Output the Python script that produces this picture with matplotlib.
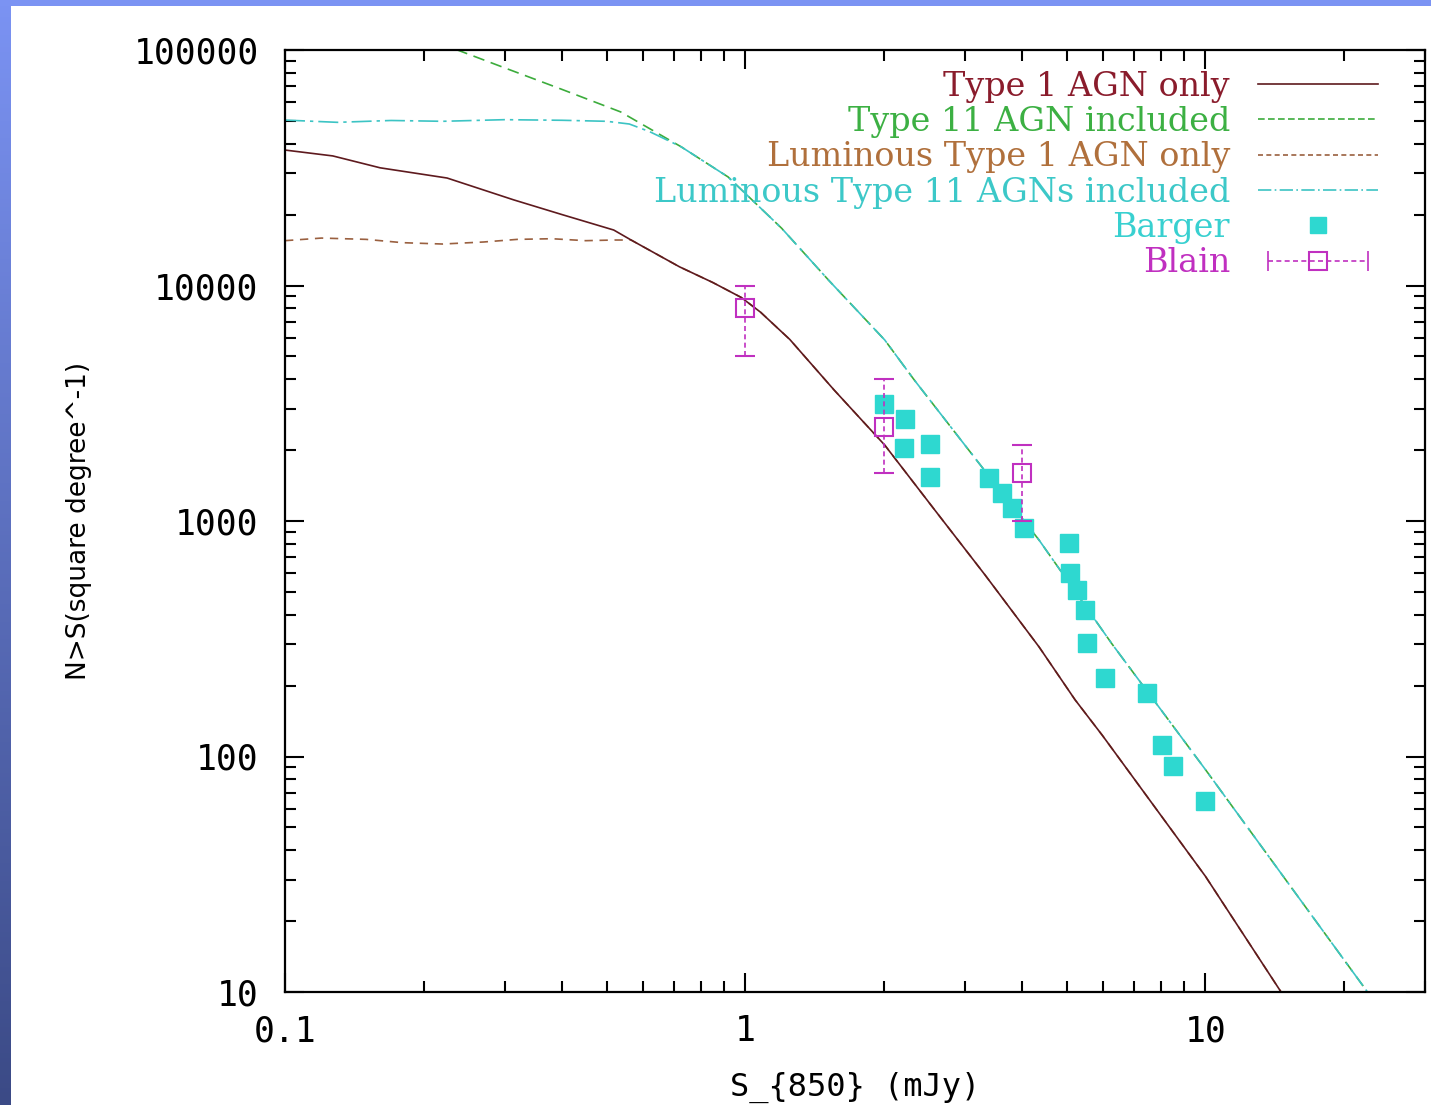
import matplotlib
matplotlib.use('Agg')
import matplotlib.pyplot as plt
import numpy as np
from matplotlib.lines import Line2D
from matplotlib.legend_handler import HandlerLine2D, HandlerTuple
from matplotlib.ticker import FixedLocator, FixedFormatter, LogLocator, NullFormatter

# --- model curves: N(>S) per square degree vs S_850 (mJy) ---
s_type1 = [0.1, 0.127, 0.161, 0.225, 0.314, 0.4, 0.518, 0.565, 0.72, 0.85, 0.98, 1.08, 1.25,
           1.56, 2.01, 2.58, 3.32, 4.35, 5.21, 5.97, 10.0, 14.6]
n_type1 = [37600, 35500, 31600, 28600, 23100, 20000, 17200, 15600, 12000, 10300, 8900, 7700, 5900,
           3600, 2100, 1115, 590, 292, 174, 123, 31, 10]

s_type2 = [0.2, 0.237, 0.3, 0.4, 0.536, 0.726, 0.918, 1.2, 1.52, 2.01, 2.33,
           3.22, 4.35, 6.27, 10.0, 22.5]
n_type2 = [118000, 100000, 84000, 68000, 54600, 38800, 28900, 17500, 10500, 5870, 3970,
           1760, 830, 300, 88, 10]

s_lum1 = [0.1, 0.12, 0.15, 0.18, 0.22, 0.27, 0.32, 0.38, 0.45, 0.52, 0.565, 0.72, 0.85, 0.98,
          1.08, 1.25, 1.56, 2.01, 2.58, 3.32, 4.35, 5.21, 5.97, 10.0, 14.6]
n_lum1 = [15500, 15900, 15700, 15200, 15000, 15300, 15700, 15800, 15500, 15600, 15600, 12000, 10300, 8900,
          7700, 5900, 3600, 2100, 1115, 590, 292, 174, 123, 31, 10]

s_lum2 = [0.1, 0.13, 0.17, 0.22, 0.3, 0.4, 0.5, 0.56, 0.62, 0.726, 0.918, 1.2, 1.52,
          2.01, 2.33, 3.22, 4.35, 6.27, 10.0, 22.5]
n_lum2 = [50400, 49300, 50200, 49800, 50600, 50300, 49800, 48500, 45000, 38800, 28900, 17500, 10500,
          5870, 3970, 1760, 830, 300, 88, 10]

# --- observed counts ---
s_barger = [2.0, 2.22, 2.21, 2.52, 2.52, 3.38, 3.61, 3.80, 4.03, 5.05, 5.07, 5.26, 5.48, 5.53,
            6.05, 7.48, 8.06, 8.52, 10.0]
n_barger = [3140, 2710, 2040, 2120, 1540, 1520, 1315, 1135, 933, 807, 601, 509, 419, 303,
            216, 186, 112, 91, 65]

s_blain = [1.0, 2.0, 4.0]
n_blain = [8000, 2500, 1600]
n_blain_lo = [5000, 1600, 1000]
n_blain_hi = [10000, 4000, 2100]

labels = ['Type 1 AGN only', 'Type 11 AGN included', 'Luminous Type 1 AGN only',
          'Luminous Type 11 AGNs included', 'Barger', 'Blain']
label_colors = ['#8a1c2c', '#3cb043', '#b0703c', '#3cc8c8', '#38d0d0', '#c030c0']

c_type1 = '#5e1a1e'
c_type2 = '#3cac3c'
c_lum1 = '#9a6040'
c_lum2 = '#3cc4c4'
c_barger = '#2ed8d0'
c_blain = '#c030c0'

W, H = 1431, 1105
fig = plt.figure(figsize=(W / 100, H / 100), dpi=100, facecolor='white')

# blue slide border (left gradient strip + thin top strip)
band = fig.add_axes([0, 0, 11 / W, 1])
grad = np.linspace(0, 1, 256).reshape(-1, 1)
band.imshow(grad, aspect='auto', extent=[0, 1, 0, 1], origin='upper',
            cmap=matplotlib.colors.LinearSegmentedColormap.from_list('b', ['#7b93f3', '#3b4a86']))
band.axis('off')
top = fig.add_axes([0, 1 - 6 / H, 1, 6 / H])
top.set_facecolor('#7b93f3')
top.set_xticks([])
top.set_yticks([])
for sp in top.spines.values():
    sp.set_visible(False)

ax = fig.add_axes([285 / W, 1 - 992 / H, 1140 / W, 942 / H])
ax.set_xscale('log')
ax.set_yscale('log')

lw = 1.2
ax.plot(s_type2, n_type2, color=c_type2, lw=lw, dashes=(7, 4))
ax.plot(s_lum1, n_lum1, color=c_lum1, lw=lw, dashes=(5, 4))
ax.plot(s_lum2, n_lum2, color=c_lum2, lw=lw, dashes=(12, 3, 2, 3))
ax.plot(s_type1, n_type1, color=c_type1, lw=lw)

ax.plot(s_barger, n_barger, ls='none', marker='s', ms=13, color=c_barger, mec=c_barger)

yerr = [np.array(n_blain) - np.array(n_blain_lo), np.array(n_blain_hi) - np.array(n_blain)]
eb = ax.errorbar(s_blain, n_blain, yerr=yerr, fmt='s', ms=13, mfc='none', mec=c_blain, mew=1.5,
                 ecolor=c_blain, elinewidth=1.2, capsize=7, capthick=1.2)
for col in eb[2]:
    col.set_linestyle((0, (3, 2)))

ax.set_xlim(0.1, 30)
ax.set_ylim(10, 100000)

tick_font = 'DejaVu Sans Mono'
ax.xaxis.set_major_locator(FixedLocator([0.1, 1, 10]))
ax.xaxis.set_major_formatter(FixedFormatter(['0.1', '1', '10']))
ax.yaxis.set_major_locator(FixedLocator([10, 100, 1000, 10000, 100000]))
ax.yaxis.set_major_formatter(FixedFormatter(['10', '100', '1000', '10000', '100000']))
for axis in (ax.xaxis, ax.yaxis):
    axis.set_minor_locator(LogLocator(base=10, subs=np.arange(2, 10), numticks=20))
    axis.set_minor_formatter(NullFormatter())

ax.tick_params(which='both', direction='in', top=True, right=True, width=1.5, colors='black')
ax.tick_params(which='major', length=14)
ax.tick_params(which='minor', length=8)
ax.tick_params(axis='y', which='major', pad=19)
ax.tick_params(axis='x', which='major', pad=16)
for lab in ax.get_xticklabels() + ax.get_yticklabels():
    lab.set_fontfamily(tick_font)
    lab.set_fontsize(25)
for sp in ax.spines.values():
    sp.set_linewidth(1.6)

ax.set_xlabel('S_{850} (mJy)', fontfamily=tick_font, fontsize=23, labelpad=17)
ax.set_ylabel('N>S(square degree^-1)', fontfamily='DejaVu Sans', fontsize=19, labelpad=30)

# legend handles, gnuplot style: key text on the left, sample on the right
h_type1 = Line2D([], [], color=c_type1, lw=lw)
h_type2 = Line2D([], [], color=c_type2, lw=lw, dashes=(4, 2))
h_lum1 = Line2D([], [], color=c_lum1, lw=lw, dashes=(3, 2))
h_lum2 = Line2D([], [], color=c_lum2, lw=lw, dashes=(8, 2, 1, 2))
h_barger = Line2D([], [], ls='none', marker='s', ms=12, color=c_barger)
h_cap = Line2D([], [], color=c_blain, lw=1.2, dashes=(3, 2), marker='|', ms=14, mew=1.2)
h_sq = Line2D([], [], ls='none', marker='s', ms=13, mfc='none', mec=c_blain, mew=1.5)

leg_size = 24
leg = ax.legend([h_type1, h_type2, h_lum1, h_lum2, h_barger, (h_cap, h_sq)], labels,
                loc='upper right', bbox_to_anchor=(0.9588, 0.978), frameon=False, markerfirst=False,
                prop={'family': 'DejaVu Serif', 'size': leg_size},
                handlelength=3.6, handletextpad=0.84, labelspacing=0.10,
                borderpad=0.0, borderaxespad=0.0, numpoints=1,
                handler_map={h_cap: HandlerLine2D(numpoints=2),
                             tuple: HandlerTuple(ndivide=1, pad=0)})
for txt, col in zip(leg.get_texts(), label_colors):
    txt.set_color(col)

fig.savefig('out.png', dpi=100, facecolor='white')
